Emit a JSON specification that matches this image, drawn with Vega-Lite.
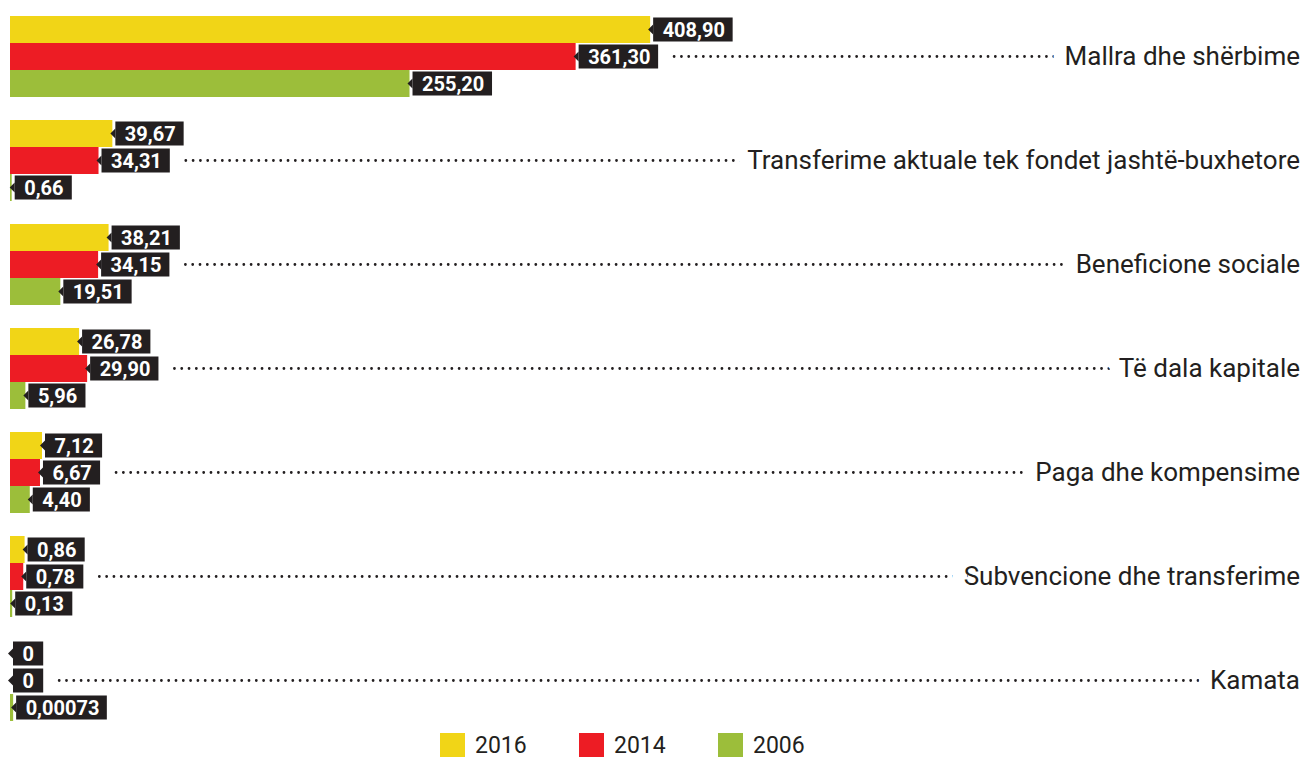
{
  "$schema": "https://vega.github.io/schema/vega-lite/v6.json",
  "padding": {"left": 8, "top": 16, "right": 0, "bottom": 0},
  "background": "white",
  "spacing": 23,
  "config": {
    "view": {"stroke": null},
    "concat": {"spacing": 23},
    "legend": {"orient": "none", "legendX": 430, "legendY": 717, "direction": "horizontal", "padding": 0}
  },
  "resolve": {"scale": {"x": "independent", "color": "shared"}},
  "data": {"values": [
    {"cat": "Mallra dhe shërbime", "year": "2016", "value": 408.90, "label": "408,90"},
    {"cat": "Mallra dhe shërbime", "year": "2014", "value": 361.30, "label": "361,30"},
    {"cat": "Mallra dhe shërbime", "year": "2006", "value": 255.20, "label": "255,20"},
    {"cat": "Transferime aktuale tek fondet jashtë-buxhetore", "year": "2016", "value": 39.67, "label": "39,67"},
    {"cat": "Transferime aktuale tek fondet jashtë-buxhetore", "year": "2014", "value": 34.31, "label": "34,31"},
    {"cat": "Transferime aktuale tek fondet jashtë-buxhetore", "year": "2006", "value": 0.66, "label": "0,66"},
    {"cat": "Beneficione sociale", "year": "2016", "value": 38.21, "label": "38,21"},
    {"cat": "Beneficione sociale", "year": "2014", "value": 34.15, "label": "34,15"},
    {"cat": "Beneficione sociale", "year": "2006", "value": 19.51, "label": "19,51"},
    {"cat": "Të dala kapitale", "year": "2016", "value": 26.78, "label": "26,78"},
    {"cat": "Të dala kapitale", "year": "2014", "value": 29.90, "label": "29,90"},
    {"cat": "Të dala kapitale", "year": "2006", "value": 5.96, "label": "5,96"},
    {"cat": "Paga dhe kompensime", "year": "2016", "value": 7.12, "label": "7,12"},
    {"cat": "Paga dhe kompensime", "year": "2014", "value": 6.67, "label": "6,67"},
    {"cat": "Paga dhe kompensime", "year": "2006", "value": 4.40, "label": "4,40"},
    {"cat": "Subvencione dhe transferime", "year": "2016", "value": 0.86, "label": "0,86"},
    {"cat": "Subvencione dhe transferime", "year": "2014", "value": 0.78, "label": "0,78"},
    {"cat": "Subvencione dhe transferime", "year": "2006", "value": 0.13, "label": "0,13"},
    {"cat": "Kamata", "year": "2016", "value": 0, "label": "0"},
    {"cat": "Kamata", "year": "2014", "value": 0, "label": "0"},
    {"cat": "Kamata", "year": "2006", "value": 0.00073, "label": "0,00073"}
  ]},
  "vconcat": [
    {
      "width": 1290, "height": 81,
      "transform": [{"filter": "datum.cat === 'Mallra dhe shërbime'"}],
      "encoding": {
        "y": {"field": "year", "type": "nominal", "sort": ["2016", "2014", "2006"], "axis": null, "scale": {"paddingInner": 0, "paddingOuter": 0}},
        "x": {"field": "value", "type": "quantitative", "axis": null, "scale": {"domain": [0, 824], "nice": false}}
      },
      "layer": [
        {"transform": [{"filter": "datum.year === '2014'"}], "mark": {"type": "rule", "strokeDash": [0, 7.3], "strokeCap": "round", "strokeWidth": 2.8, "color": "#231f20", "xOffset": {"expr": "3 + 19 + 11.2*length(replace(datum.label, ',', '')) + (indexof(datum.label, ',') >= 0 ? 4.5 : 0) + 16"}}, "encoding": {"x2": {"value": "width"}}},
        {"transform": [{"filter": "datum.year === '2014'"}], "mark": {"type": "text", "align": "right", "baseline": "middle", "font": "Roboto", "fontSize": 26, "fill": "white", "stroke": "white", "strokeWidth": 26, "strokeJoin": "round"}, "encoding": {"x": {"value": "width"}, "text": {"field": "cat"}}},
        {"transform": [{"filter": "datum.year === '2014'"}], "mark": {"type": "text", "align": "right", "baseline": "middle", "font": "Roboto", "fontSize": 26, "color": "#231f20"}, "encoding": {"x": {"value": "width"}, "text": {"field": "cat"}}},
        {"mark": {"type": "bar"}, "encoding": {"color": {"field": "year", "type": "nominal", "scale": {"domain": ["2016", "2014", "2006"], "range": ["#f1d517", "#ed1c24", "#9cbe3a"]}, "legend": {"title": null, "symbolType": "square", "symbolSize": 625, "symbolStrokeWidth": 0, "labelFont": "Roboto", "labelFontSize": 23, "labelColor": "#231f20", "labelOffset": 10, "columnPadding": 52}}}},
        {"mark": {"type": "bar", "size": 24, "color": "#231f20", "xOffset": 3, "x2Offset": {"expr": "3 + 19 + 11.2*length(replace(datum.label, ',', '')) + (indexof(datum.label, ',') >= 0 ? 4.5 : 0)"}}, "encoding": {"x2": {"field": "value"}}},
        {"mark": {"type": "point", "shape": "M-1,0L0,-1L0,1Z", "filled": true, "size": 100, "color": "#231f20", "opacity": 1, "xOffset": 3}},
        {"mark": {"type": "text", "align": "left", "baseline": "middle", "xOffset": 12.5, "dy": 1, "font": "Roboto", "fontSize": 20, "fontWeight": "bold", "color": "white"}, "encoding": {"text": {"field": "label"}}}
      ]
    },
    {
      "width": 1290, "height": 81,
      "transform": [{"filter": "datum.cat === 'Transferime aktuale tek fondet jashtë-buxhetore'"}],
      "encoding": {
        "y": {"field": "year", "type": "nominal", "sort": ["2016", "2014", "2006"], "axis": null, "scale": {"paddingInner": 0, "paddingOuter": 0}},
        "x": {"field": "value", "type": "quantitative", "axis": null, "scale": {"domain": [0, 500], "nice": false}}
      },
      "layer": [
        {"transform": [{"filter": "datum.year === '2014'"}], "mark": {"type": "rule", "strokeDash": [0, 7.3], "strokeCap": "round", "strokeWidth": 2.8, "color": "#231f20", "xOffset": {"expr": "3 + 19 + 11.2*length(replace(datum.label, ',', '')) + (indexof(datum.label, ',') >= 0 ? 4.5 : 0) + 16"}}, "encoding": {"x2": {"value": "width"}}},
        {"transform": [{"filter": "datum.year === '2014'"}], "mark": {"type": "text", "align": "right", "baseline": "middle", "font": "Roboto", "fontSize": 26, "fill": "white", "stroke": "white", "strokeWidth": 26, "strokeJoin": "round"}, "encoding": {"x": {"value": "width"}, "text": {"field": "cat"}}},
        {"transform": [{"filter": "datum.year === '2014'"}], "mark": {"type": "text", "align": "right", "baseline": "middle", "font": "Roboto", "fontSize": 26, "color": "#231f20"}, "encoding": {"x": {"value": "width"}, "text": {"field": "cat"}}},
        {"mark": {"type": "bar"}, "encoding": {"color": {"field": "year", "type": "nominal", "scale": {"domain": ["2016", "2014", "2006"], "range": ["#f1d517", "#ed1c24", "#9cbe3a"]}, "legend": {"title": null, "symbolType": "square", "symbolSize": 625, "symbolStrokeWidth": 0, "labelFont": "Roboto", "labelFontSize": 23, "labelColor": "#231f20", "labelOffset": 10, "columnPadding": 52}}}},
        {"mark": {"type": "bar", "size": 24, "color": "#231f20", "xOffset": 3, "x2Offset": {"expr": "3 + 19 + 11.2*length(replace(datum.label, ',', '')) + (indexof(datum.label, ',') >= 0 ? 4.5 : 0)"}}, "encoding": {"x2": {"field": "value"}}},
        {"mark": {"type": "point", "shape": "M-1,0L0,-1L0,1Z", "filled": true, "size": 100, "color": "#231f20", "opacity": 1, "xOffset": 3}},
        {"mark": {"type": "text", "align": "left", "baseline": "middle", "xOffset": 12.5, "dy": 1, "font": "Roboto", "fontSize": 20, "fontWeight": "bold", "color": "white"}, "encoding": {"text": {"field": "label"}}}
      ]
    },
    {
      "width": 1290, "height": 81,
      "transform": [{"filter": "datum.cat === 'Beneficione sociale'"}],
      "encoding": {
        "y": {"field": "year", "type": "nominal", "sort": ["2016", "2014", "2006"], "axis": null, "scale": {"paddingInner": 0, "paddingOuter": 0}},
        "x": {"field": "value", "type": "quantitative", "axis": null, "scale": {"domain": [0, 500], "nice": false}}
      },
      "layer": [
        {"transform": [{"filter": "datum.year === '2014'"}], "mark": {"type": "rule", "strokeDash": [0, 7.3], "strokeCap": "round", "strokeWidth": 2.8, "color": "#231f20", "xOffset": {"expr": "3 + 19 + 11.2*length(replace(datum.label, ',', '')) + (indexof(datum.label, ',') >= 0 ? 4.5 : 0) + 16"}}, "encoding": {"x2": {"value": "width"}}},
        {"transform": [{"filter": "datum.year === '2014'"}], "mark": {"type": "text", "align": "right", "baseline": "middle", "font": "Roboto", "fontSize": 26, "fill": "white", "stroke": "white", "strokeWidth": 26, "strokeJoin": "round"}, "encoding": {"x": {"value": "width"}, "text": {"field": "cat"}}},
        {"transform": [{"filter": "datum.year === '2014'"}], "mark": {"type": "text", "align": "right", "baseline": "middle", "font": "Roboto", "fontSize": 26, "color": "#231f20"}, "encoding": {"x": {"value": "width"}, "text": {"field": "cat"}}},
        {"mark": {"type": "bar"}, "encoding": {"color": {"field": "year", "type": "nominal", "scale": {"domain": ["2016", "2014", "2006"], "range": ["#f1d517", "#ed1c24", "#9cbe3a"]}, "legend": {"title": null, "symbolType": "square", "symbolSize": 625, "symbolStrokeWidth": 0, "labelFont": "Roboto", "labelFontSize": 23, "labelColor": "#231f20", "labelOffset": 10, "columnPadding": 52}}}},
        {"mark": {"type": "bar", "size": 24, "color": "#231f20", "xOffset": 3, "x2Offset": {"expr": "3 + 19 + 11.2*length(replace(datum.label, ',', '')) + (indexof(datum.label, ',') >= 0 ? 4.5 : 0)"}}, "encoding": {"x2": {"field": "value"}}},
        {"mark": {"type": "point", "shape": "M-1,0L0,-1L0,1Z", "filled": true, "size": 100, "color": "#231f20", "opacity": 1, "xOffset": 3}},
        {"mark": {"type": "text", "align": "left", "baseline": "middle", "xOffset": 12.5, "dy": 1, "font": "Roboto", "fontSize": 20, "fontWeight": "bold", "color": "white"}, "encoding": {"text": {"field": "label"}}}
      ]
    },
    {
      "width": 1290, "height": 81,
      "transform": [{"filter": "datum.cat === 'Të dala kapitale'"}],
      "encoding": {
        "y": {"field": "year", "type": "nominal", "sort": ["2016", "2014", "2006"], "axis": null, "scale": {"paddingInner": 0, "paddingOuter": 0}},
        "x": {"field": "value", "type": "quantitative", "axis": null, "scale": {"domain": [0, 500], "nice": false}}
      },
      "layer": [
        {"transform": [{"filter": "datum.year === '2014'"}], "mark": {"type": "rule", "strokeDash": [0, 7.3], "strokeCap": "round", "strokeWidth": 2.8, "color": "#231f20", "xOffset": {"expr": "3 + 19 + 11.2*length(replace(datum.label, ',', '')) + (indexof(datum.label, ',') >= 0 ? 4.5 : 0) + 16"}}, "encoding": {"x2": {"value": "width"}}},
        {"transform": [{"filter": "datum.year === '2014'"}], "mark": {"type": "text", "align": "right", "baseline": "middle", "font": "Roboto", "fontSize": 26, "fill": "white", "stroke": "white", "strokeWidth": 26, "strokeJoin": "round"}, "encoding": {"x": {"value": "width"}, "text": {"field": "cat"}}},
        {"transform": [{"filter": "datum.year === '2014'"}], "mark": {"type": "text", "align": "right", "baseline": "middle", "font": "Roboto", "fontSize": 26, "color": "#231f20"}, "encoding": {"x": {"value": "width"}, "text": {"field": "cat"}}},
        {"mark": {"type": "bar"}, "encoding": {"color": {"field": "year", "type": "nominal", "scale": {"domain": ["2016", "2014", "2006"], "range": ["#f1d517", "#ed1c24", "#9cbe3a"]}, "legend": {"title": null, "symbolType": "square", "symbolSize": 625, "symbolStrokeWidth": 0, "labelFont": "Roboto", "labelFontSize": 23, "labelColor": "#231f20", "labelOffset": 10, "columnPadding": 52}}}},
        {"mark": {"type": "bar", "size": 24, "color": "#231f20", "xOffset": 3, "x2Offset": {"expr": "3 + 19 + 11.2*length(replace(datum.label, ',', '')) + (indexof(datum.label, ',') >= 0 ? 4.5 : 0)"}}, "encoding": {"x2": {"field": "value"}}},
        {"mark": {"type": "point", "shape": "M-1,0L0,-1L0,1Z", "filled": true, "size": 100, "color": "#231f20", "opacity": 1, "xOffset": 3}},
        {"mark": {"type": "text", "align": "left", "baseline": "middle", "xOffset": 12.5, "dy": 1, "font": "Roboto", "fontSize": 20, "fontWeight": "bold", "color": "white"}, "encoding": {"text": {"field": "label"}}}
      ]
    },
    {
      "width": 1290, "height": 81,
      "transform": [{"filter": "datum.cat === 'Paga dhe kompensime'"}],
      "encoding": {
        "y": {"field": "year", "type": "nominal", "sort": ["2016", "2014", "2006"], "axis": null, "scale": {"paddingInner": 0, "paddingOuter": 0}},
        "x": {"field": "value", "type": "quantitative", "axis": null, "scale": {"domain": [0, 287], "nice": false}}
      },
      "layer": [
        {"transform": [{"filter": "datum.year === '2014'"}], "mark": {"type": "rule", "strokeDash": [0, 7.3], "strokeCap": "round", "strokeWidth": 2.8, "color": "#231f20", "xOffset": {"expr": "3 + 19 + 11.2*length(replace(datum.label, ',', '')) + (indexof(datum.label, ',') >= 0 ? 4.5 : 0) + 16"}}, "encoding": {"x2": {"value": "width"}}},
        {"transform": [{"filter": "datum.year === '2014'"}], "mark": {"type": "text", "align": "right", "baseline": "middle", "font": "Roboto", "fontSize": 26, "fill": "white", "stroke": "white", "strokeWidth": 26, "strokeJoin": "round"}, "encoding": {"x": {"value": "width"}, "text": {"field": "cat"}}},
        {"transform": [{"filter": "datum.year === '2014'"}], "mark": {"type": "text", "align": "right", "baseline": "middle", "font": "Roboto", "fontSize": 26, "color": "#231f20"}, "encoding": {"x": {"value": "width"}, "text": {"field": "cat"}}},
        {"mark": {"type": "bar"}, "encoding": {"color": {"field": "year", "type": "nominal", "scale": {"domain": ["2016", "2014", "2006"], "range": ["#f1d517", "#ed1c24", "#9cbe3a"]}, "legend": {"title": null, "symbolType": "square", "symbolSize": 625, "symbolStrokeWidth": 0, "labelFont": "Roboto", "labelFontSize": 23, "labelColor": "#231f20", "labelOffset": 10, "columnPadding": 52}}}},
        {"mark": {"type": "bar", "size": 24, "color": "#231f20", "xOffset": 3, "x2Offset": {"expr": "3 + 19 + 11.2*length(replace(datum.label, ',', '')) + (indexof(datum.label, ',') >= 0 ? 4.5 : 0)"}}, "encoding": {"x2": {"field": "value"}}},
        {"mark": {"type": "point", "shape": "M-1,0L0,-1L0,1Z", "filled": true, "size": 100, "color": "#231f20", "opacity": 1, "xOffset": 3}},
        {"mark": {"type": "text", "align": "left", "baseline": "middle", "xOffset": 12.5, "dy": 1, "font": "Roboto", "fontSize": 20, "fontWeight": "bold", "color": "white"}, "encoding": {"text": {"field": "label"}}}
      ]
    },
    {
      "width": 1290, "height": 81,
      "transform": [{"filter": "datum.cat === 'Subvencione dhe transferime'"}],
      "encoding": {
        "y": {"field": "year", "type": "nominal", "sort": ["2016", "2014", "2006"], "axis": null, "scale": {"paddingInner": 0, "paddingOuter": 0}},
        "x": {"field": "value", "type": "quantitative", "axis": null, "scale": {"domain": [0, 76], "nice": false}}
      },
      "layer": [
        {"transform": [{"filter": "datum.year === '2014'"}], "mark": {"type": "rule", "strokeDash": [0, 7.3], "strokeCap": "round", "strokeWidth": 2.8, "color": "#231f20", "xOffset": {"expr": "3 + 19 + 11.2*length(replace(datum.label, ',', '')) + (indexof(datum.label, ',') >= 0 ? 4.5 : 0) + 16"}}, "encoding": {"x2": {"value": "width"}}},
        {"transform": [{"filter": "datum.year === '2014'"}], "mark": {"type": "text", "align": "right", "baseline": "middle", "font": "Roboto", "fontSize": 26, "fill": "white", "stroke": "white", "strokeWidth": 26, "strokeJoin": "round"}, "encoding": {"x": {"value": "width"}, "text": {"field": "cat"}}},
        {"transform": [{"filter": "datum.year === '2014'"}], "mark": {"type": "text", "align": "right", "baseline": "middle", "font": "Roboto", "fontSize": 26, "color": "#231f20"}, "encoding": {"x": {"value": "width"}, "text": {"field": "cat"}}},
        {"mark": {"type": "bar"}, "encoding": {"color": {"field": "year", "type": "nominal", "scale": {"domain": ["2016", "2014", "2006"], "range": ["#f1d517", "#ed1c24", "#9cbe3a"]}, "legend": {"title": null, "symbolType": "square", "symbolSize": 625, "symbolStrokeWidth": 0, "labelFont": "Roboto", "labelFontSize": 23, "labelColor": "#231f20", "labelOffset": 10, "columnPadding": 52}}}},
        {"mark": {"type": "bar", "size": 24, "color": "#231f20", "xOffset": 3, "x2Offset": {"expr": "3 + 19 + 11.2*length(replace(datum.label, ',', '')) + (indexof(datum.label, ',') >= 0 ? 4.5 : 0)"}}, "encoding": {"x2": {"field": "value"}}},
        {"mark": {"type": "point", "shape": "M-1,0L0,-1L0,1Z", "filled": true, "size": 100, "color": "#231f20", "opacity": 1, "xOffset": 3}},
        {"mark": {"type": "text", "align": "left", "baseline": "middle", "xOffset": 12.5, "dy": 1, "font": "Roboto", "fontSize": 20, "fontWeight": "bold", "color": "white"}, "encoding": {"text": {"field": "label"}}}
      ]
    },
    {
      "width": 1290, "height": 81,
      "transform": [{"filter": "datum.cat === 'Kamata'"}],
      "encoding": {
        "y": {"field": "year", "type": "nominal", "sort": ["2016", "2014", "2006"], "axis": null, "scale": {"paddingInner": 0, "paddingOuter": 0}},
        "x": {"field": "value", "type": "quantitative", "axis": null, "scale": {"domain": [0, 0.3], "nice": false}}
      },
      "layer": [
        {"transform": [{"filter": "datum.year === '2014'"}], "mark": {"type": "rule", "strokeDash": [0, 7.3], "strokeCap": "round", "strokeWidth": 2.8, "color": "#231f20", "xOffset": {"expr": "3 + 19 + 11.2*length(replace(datum.label, ',', '')) + (indexof(datum.label, ',') >= 0 ? 4.5 : 0) + 16"}}, "encoding": {"x2": {"value": "width"}}},
        {"transform": [{"filter": "datum.year === '2014'"}], "mark": {"type": "text", "align": "right", "baseline": "middle", "font": "Roboto", "fontSize": 26, "fill": "white", "stroke": "white", "strokeWidth": 26, "strokeJoin": "round"}, "encoding": {"x": {"value": "width"}, "text": {"field": "cat"}}},
        {"transform": [{"filter": "datum.year === '2014'"}], "mark": {"type": "text", "align": "right", "baseline": "middle", "font": "Roboto", "fontSize": 26, "color": "#231f20"}, "encoding": {"x": {"value": "width"}, "text": {"field": "cat"}}},
        {"mark": {"type": "bar"}, "encoding": {"color": {"field": "year", "type": "nominal", "scale": {"domain": ["2016", "2014", "2006"], "range": ["#f1d517", "#ed1c24", "#9cbe3a"]}, "legend": {"title": null, "symbolType": "square", "symbolSize": 625, "symbolStrokeWidth": 0, "labelFont": "Roboto", "labelFontSize": 23, "labelColor": "#231f20", "labelOffset": 10, "columnPadding": 52}}}},
        {"mark": {"type": "bar", "size": 24, "color": "#231f20", "xOffset": 3, "x2Offset": {"expr": "3 + 19 + 11.2*length(replace(datum.label, ',', '')) + (indexof(datum.label, ',') >= 0 ? 4.5 : 0)"}}, "encoding": {"x2": {"field": "value"}}},
        {"mark": {"type": "point", "shape": "M-1,0L0,-1L0,1Z", "filled": true, "size": 100, "color": "#231f20", "opacity": 1, "xOffset": 3}},
        {"mark": {"type": "text", "align": "left", "baseline": "middle", "xOffset": 12.5, "dy": 1, "font": "Roboto", "fontSize": 20, "fontWeight": "bold", "color": "white"}, "encoding": {"text": {"field": "label"}}}
      ]
    }
  ]
}
